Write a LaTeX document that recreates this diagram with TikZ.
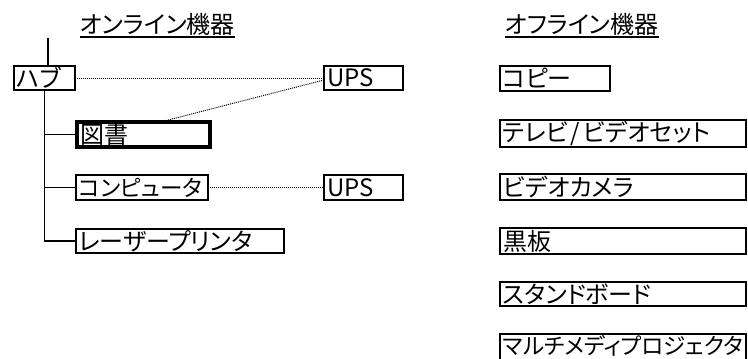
\documentclass[tikz,border=0pt]{standalone}
\usepackage{fontspec}
\setmainfont[RawFeature=+palt]{Noto Sans CJK JP}
\usetikzlibrary{shadows,calc}
\begin{document}
\begin{tikzpicture}[x=1bp,y=1bp,
  jfont/.style={font=\fontsize{24bp}{26bp}\selectfont},
  box/.style={jfont, draw, line width=2.3bp, fill=white, inner xsep=3bp, inner ysep=0pt,
    outer sep=0pt, anchor=north west, align=left,
    general shadow={fill=black, shadow xshift=1.2bp, shadow yshift=-1.2bp}},
  title/.style={jfont, inner sep=0pt, anchor=base west},
  trunk/.style={line width=1.6bp},
  dot/.style={line width=1bp, dash pattern=on 1bp off 1bp}
]
\useasboundingbox (0,0) rectangle (748,-358);
\path[fill=white] (0,0) rectangle (748,-358);

% titles
\node[title] (t1) at (80,-33) {オンライン機器};
\draw[trunk] ($(t1.base west)+(0,-4)$) -- ($(t1.base east)+(0,-4)$);
\node[title] (t2) at (505,-33) {オフライン機器};
\draw[trunk] ($(t2.base west)+(0,-4)$) -- ($(t2.base east)+(0,-4)$);

% online boxes
\node[box, text width=55bp, minimum height=24bp] (hub) at (14,-66) {ハブ};
\node[box, text width=73bp, minimum height=24bp] (ups1) at (324,-66) {UPS};
\node[box, line width=4bp, text width=127bp, minimum height=25bp] (tosho) at (77,-122) {図書};
\node[box, text width=126bp, minimum height=25bp, font=\fontsize{22.5bp}{25bp}\selectfont] (comp) at (76,-175) {コンピュータ};
\node[box, text width=73bp, minimum height=25bp] (ups2) at (324,-175) {UPS};
\node[box, text width=202bp, minimum height=24bp] (laser) at (76,-229) {レーザープリンタ};

% offline boxes
\node[box, text width=104bp, minimum height=25bp] (copy) at (500,-66) {コピー};
\node[box, text width=240bp, minimum height=27bp] (tv) at (500,-120) {テレビ\hspace{3bp}/\hspace{3bp}ビデオセット};
\node[box, text width=240bp, minimum height=26bp] (cam) at (500,-174) {ビデオカメラ};
\node[box, text width=240bp, minimum height=26bp] (board) at (500,-228) {黒板};
\node[box, text width=240bp, minimum height=24bp] (stand) at (500,-282) {スタンドボード};
\node[box, text width=240bp, text height=20bp, text depth=10bp, font=\fontsize{22.5bp}{25bp}\selectfont] (multi) at (500,-334) {マルチメディプロジェクタ};

% tree connectors
\coordinate (top) at (48,-38);
\draw[trunk] (top) -- (top |- hub.north);
\draw[trunk] (hub.south) |- (laser.west);
\draw[trunk] (hub.south |- tosho.west) -- (tosho.west);
\draw[trunk] (hub.south |- comp.west) -- (comp.west);

% dotted links
\draw[dot] (hub.east) -- (ups1.west);
\draw[dot] ($(tosho.north west)+(91,2)$) -- ($(ups1.west)+(0,-2)$);
\draw[dot] (comp.east) -- (ups2.west);
\end{tikzpicture}
\end{document}
